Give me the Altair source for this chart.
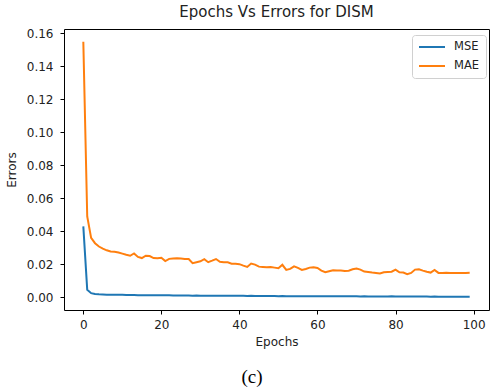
import altair as alt
import pandas as pd

epochs = list(range(100))

mse = [
    0.0430, 0.0045, 0.0025, 0.0020, 0.0018, 0.0017, 0.0016, 0.0016, 0.0015, 0.0015,
    0.0015, 0.0014, 0.0014, 0.0014, 0.0013, 0.0013, 0.0013, 0.0013, 0.0012, 0.0012,
    0.0012, 0.0012, 0.0012, 0.0011, 0.0011, 0.0011, 0.0011, 0.0011, 0.0010, 0.0011,
    0.0010, 0.0010, 0.0010, 0.0010, 0.0010, 0.0009, 0.0010, 0.0009, 0.0009, 0.0009,
    0.0009, 0.0009, 0.0008, 0.0009, 0.0008, 0.0008, 0.0008, 0.0008, 0.0008, 0.0008,
    0.0007, 0.0008, 0.0007, 0.0007, 0.0007, 0.0007, 0.0007, 0.0007, 0.0007, 0.0006,
    0.0007, 0.0006, 0.0006, 0.0006, 0.0006, 0.0006, 0.0006, 0.0006, 0.0006, 0.0006,
    0.0006, 0.0005, 0.0006, 0.0005, 0.0005, 0.0005, 0.0005, 0.0005, 0.0005, 0.0006,
    0.0005, 0.0005, 0.0005, 0.0005, 0.0005, 0.0005, 0.0005, 0.0005, 0.0005, 0.0004,
    0.0005, 0.0004, 0.0004, 0.0004, 0.0004, 0.0004, 0.0004, 0.0004, 0.0004, 0.0004,
]

mae = [
    0.1550, 0.0490, 0.0360, 0.0328, 0.0308, 0.0295, 0.0285, 0.0278, 0.0276, 0.0272,
    0.0265, 0.0258, 0.0252, 0.0266, 0.0245, 0.0238, 0.0252, 0.0250, 0.0238, 0.0237,
    0.0240, 0.0220, 0.0233, 0.0236, 0.0237, 0.0235, 0.0233, 0.0232, 0.0207, 0.0213,
    0.0218, 0.0231, 0.0213, 0.0222, 0.0232, 0.0215, 0.0213, 0.0212, 0.0204, 0.0203,
    0.0201, 0.0192, 0.0184, 0.0205, 0.0198, 0.0186, 0.0184, 0.0182, 0.0184, 0.0180,
    0.0176, 0.0197, 0.0166, 0.0172, 0.0188, 0.0178, 0.0166, 0.0172, 0.0180, 0.0182,
    0.0178, 0.0162, 0.0152, 0.0158, 0.0164, 0.0162, 0.0163, 0.0160, 0.0161, 0.0170,
    0.0174, 0.0168, 0.0156, 0.0153, 0.0150, 0.0148, 0.0144, 0.0152, 0.0154, 0.0155,
    0.0168, 0.0152, 0.0150, 0.0140, 0.0148, 0.0168, 0.0170, 0.0162, 0.0155, 0.0150,
    0.0166, 0.0148, 0.0147, 0.0149, 0.0148, 0.0147, 0.0148, 0.0147, 0.0148, 0.0149,
]

series_names = ["MSE", "MAE"]
series_colors = ["#1f77b4", "#ff7f0e"]
x_ticks = [0, 20, 40, 60, 80, 100]
y_ticks = [0.00, 0.02, 0.04, 0.06, 0.08, 0.10, 0.12, 0.14, 0.16]

df = pd.concat([
    pd.DataFrame({"Epochs": epochs, "Errors": mse, "series": "MSE"}),
    pd.DataFrame({"Epochs": epochs, "Errors": mae, "series": "MAE"}),
])

FONT = "DejaVu Sans"
TXT = "#222222"

lines = alt.Chart(df).mark_line(strokeWidth=2, clip=True).encode(
    x=alt.X("Epochs:Q",
            scale=alt.Scale(domain=[-4.95, 103.95], nice=False, zero=False),
            axis=alt.Axis(values=x_ticks, title="Epochs", format="d")),
    y=alt.Y("Errors:Q",
            scale=alt.Scale(domain=[-0.0077, 0.1627], nice=False, zero=False),
            axis=alt.Axis(values=y_ticks, title="Errors", format=".2f", labelPadding=7)),
    color=alt.Color("series:N",
                    scale=alt.Scale(domain=series_names, range=series_colors),
                    sort=series_names,
                    legend=alt.Legend(
                        title=None, orient="none", legendX=348, legendY=6,
                        symbolType="M-2.6,0H2.6", symbolSize=100, symbolStrokeWidth=2,
                        symbolOffset=8,
                        labelFont=FONT, labelFontSize=11.5, labelColor=TXT,
                        strokeColor="#d0d0d0", fillColor="white", cornerRadius=3,
                        padding=6, rowPadding=7, labelOffset=16)),
    order=alt.Order("Epochs:Q"),
)

caption = alt.Chart(pd.DataFrame({"t": ["(c)"]})).mark_text(
    font="Liberation Serif", fontSize=19, color="#000000",
    align="center", baseline="alphabetic",
).encode(text="t:N", x=alt.value(188), y=alt.value(354))

chart = alt.layer(lines, caption).properties(
    width=425, height=281,
    title=alt.TitleParams("Epochs Vs Errors for DISM", font=FONT, fontSize=15,
                          fontWeight="normal", color=TXT, offset=7),
    autosize=alt.AutoSizeParams(type="none"),
    padding={"left": 64, "top": 29, "right": 1, "bottom": 79},
).configure_view(
    stroke="#000000", strokeWidth=1
).configure_axis(
    grid=False, domain=False, ticks=True, tickSize=4, tickColor="#000000",
    labelFont=FONT, labelFontSize=12, labelColor=TXT, labelPadding=5,
    titleFont=FONT, titleFontSize=12, titleFontWeight="normal", titleColor=TXT,
).configure_axisX(titlePadding=6).configure_axisY(titlePadding=8)

chart.save("out.html", embed_options={"renderer": "svg", "actions": False})
